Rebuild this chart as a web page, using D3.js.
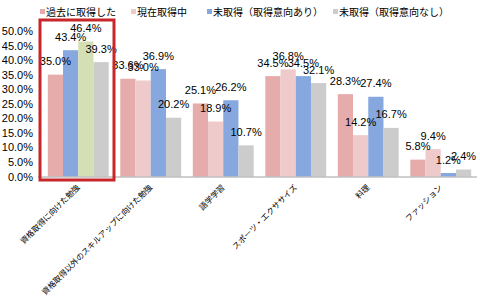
<!DOCTYPE html>
<html lang="ja">
<head>
<meta charset="UTF-8">
<title>取得状況</title>
<script src="https://d3js.org/d3.v7.min.js"></script>
<style>
    body { margin: 0; background: #fff; }
    svg { display: block; }
    .num { font-family: "Liberation Sans Narrow", "Arial Narrow", "Liberation Sans", sans-serif; font-size: 11px; fill: #000; }
    .jp { font-family: "Noto Sans CJK JP", sans-serif; fill: #000; }
</style>
</head>
<body>
<svg width="480" height="300"></svg>
<script>
    const categories = ["資格取得に向けた勉強", "資格取得以外のスキルアップに向けた勉強", "語学学習",
                        "スポーツ・エクササイズ", "料理", "ファッション"];
    const seriesNames = ["過去に取得した", "現在取得中", "未取得（取得意向あり）", "未取得（取得意向なし）"];
    const seriesColors = ["#e6abab", "#efcaca", "#86a8df", "#cccccc"];
    // the first group is highlighted in the original with its own colours
    const highlightColors = ["#e6abab", "#86a8df", "#d4e0b4", "#cccccc"];
    const past = [35.0, 33.6, 25.1, 34.5, 28.3, 5.8];
    const current = [43.4, 33.0, 18.9, 36.8, 14.2, 9.4];
    const wantTo = [46.4, 36.9, 26.2, 34.5, 27.4, 1.2];
    const noWant = [39.3, 20.2, 10.7, 32.1, 16.7, 2.4];
    const yTicks = [0, 5, 10, 15, 20, 25, 30, 35, 40, 45, 50];

    const values = [past, current, wantTo, noWant];
    const svg = d3.select("svg");

    const x = d3.scaleBand().domain(categories).range([42, 477])
        .paddingInner(0.16).paddingOuter(0.08);
    const xs = d3.scaleBand().domain(d3.range(seriesNames.length)).range([0, x.bandwidth()]);
    const y = d3.scaleLinear().domain([0, 50]).range([176.5, 31]);

    // y axis labels
    svg.append("g").selectAll("text").data(yTicks).join("text")
        .attr("class", "num")
        .attr("x", 33).attr("y", d => y(d) + 4)
        .attr("text-anchor", "end")
        .text(d => d.toFixed(1) + "%");

    // bars
    const group = svg.append("g").selectAll("g").data(categories).join("g")
        .attr("transform", d => `translate(${x(d)},0)`);

    group.selectAll("rect")
        .data((c, ci) => values.map((s, si) => ({ si, ci, v: s[ci] })))
        .join("rect")
        .attr("x", d => xs(d.si))
        .attr("width", xs.bandwidth())
        .attr("y", d => y(d.v))
        .attr("height", d => y(0) - y(d.v))
        .attr("fill", d => d.ci === 0 ? highlightColors[d.si] : seriesColors[d.si]);

    // baseline
    svg.append("line")
        .attr("x1", 38).attr("x2", 477)
        .attr("y1", y(0) + 0.5).attr("y2", y(0) + 0.5)
        .attr("stroke", "#a0a0a0");

    // value labels
    group.selectAll("text.num")
        .data((c, ci) => values.map((s, si) => ({ si, v: s[ci] })))
        .join("text")
        .attr("class", "num")
        .attr("x", d => xs(d.si) + xs.bandwidth() / 2)
        .attr("y", d => y(d.v) - 9.5)
        .attr("text-anchor", "middle")
        .text(d => d.v.toFixed(1) + "%");

    // category labels
    svg.append("g").selectAll("text").data(categories).join("text")
        .attr("class", "jp")
        .style("font-size", "8px")
        .attr("text-anchor", "end")
        .attr("transform", d => `translate(${x(d) + x.bandwidth() / 2 + 2},188) rotate(-45)`)
        .text(d => d);

    // legend
    const legendX = [40, 131, 207, 333];
    const legend = svg.append("g").selectAll("g").data(seriesNames).join("g")
        .attr("transform", (d, i) => `translate(${legendX[i]},0)`);
    legend.append("rect")
        .attr("x", 0).attr("y", 9).attr("width", 5).attr("height", 5)
        .attr("fill", (d, i) => seriesColors[i]);
    legend.append("text")
        .attr("class", "jp")
        .style("font-size", "10px")
        .attr("x", 6).attr("y", 15.5)
        .text(d => d);

    // highlight box round the first category
    svg.append("rect")
        .attr("x", 40).attr("y", 20)
        .attr("width", 74).attr("height", 160)
        .attr("fill", "none")
        .attr("stroke", "#c8262b")
        .attr("stroke-width", 3);
</script>
</body>
</html>
